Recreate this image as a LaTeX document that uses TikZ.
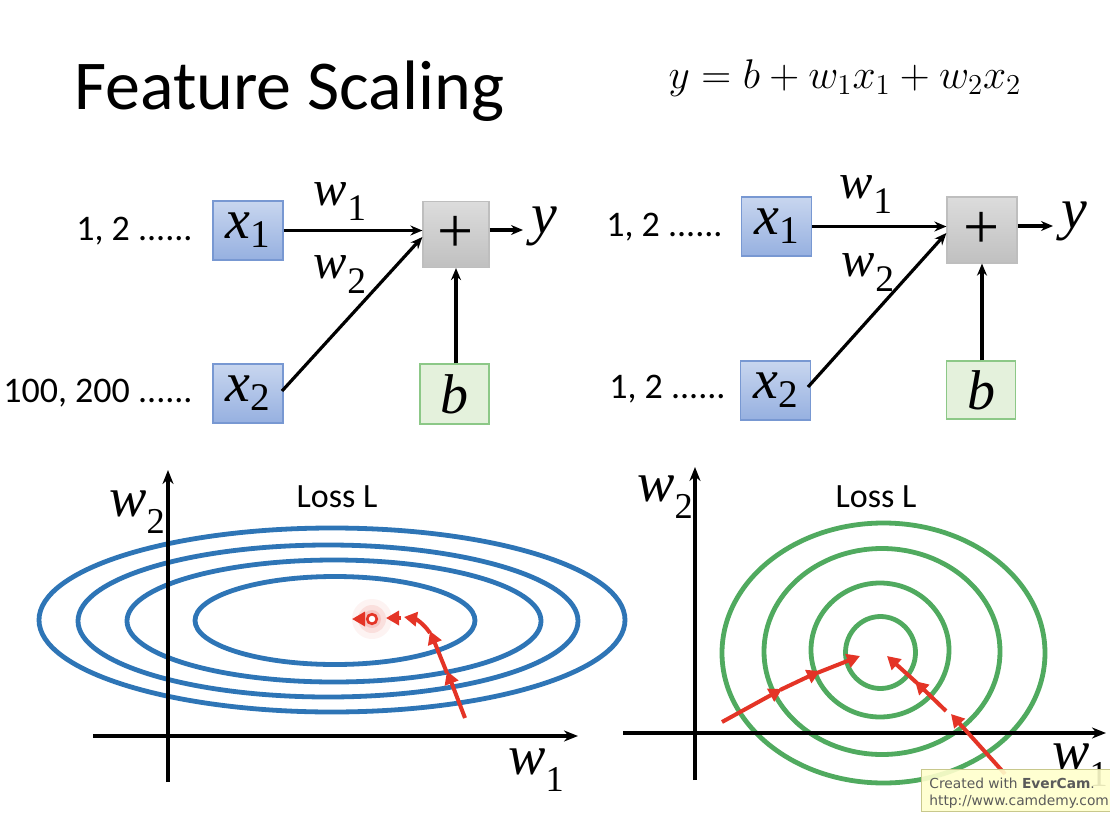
\documentclass[tikz,border=0pt]{standalone}
\usepackage{fontspec}
\setmainfont{Carlito}
\newfontfamily\tms{Liberation Serif}
\newfontfamily\dvs{DejaVu Sans}
\usetikzlibrary{arrows.meta}
\definecolor{bluetop}{RGB}{200,214,239}
\definecolor{bluebot}{RGB}{150,176,224}
\definecolor{blueedge}{RGB}{120,152,210}
\definecolor{graytop}{RGB}{220,220,220}
\definecolor{graybot}{RGB}{192,192,192}
\definecolor{grayedge}{RGB}{190,190,190}
\definecolor{greenfill}{RGB}{228,241,220}
\definecolor{greenedge}{RGB}{140,200,135}
\definecolor{ellblue}{RGB}{46,117,182}
\definecolor{ringgreen}{RGB}{80,170,95}
\definecolor{redc}{RGB}{228,52,38}
\definecolor{wmfill}{RGB}{255,255,204}
\definecolor{wmedge}{RGB}{200,200,140}
\definecolor{wmtext}{RGB}{90,90,90}
\newcommand{\tsub}[3][0.7]{{\tms\itshape #2}{\tms\raisebox{-0.16em}{\scalebox{#1}{#3}}}}
\newcommand{\wsub}[3][0.75]{{\tms\itshape #2}{\tms\raisebox{-0.3em}{\scalebox{#1}{#3}}}}
\tikzset{
  inbox/.style={draw=blueedge, line width=0.6pt, top color=bluetop, bottom color=bluebot,
    minimum width=35pt, minimum height=29.5pt, inner sep=0pt, font=\fontsize{28}{30}\selectfont},
  sumbox/.style={draw=grayedge, line width=0.6pt, top color=graytop, bottom color=graybot,
    minimum width=33pt, minimum height=33pt, inner sep=0pt, font=\fontsize{32}{34}\tms\selectfont},
  biasbox/.style={draw=greenedge, line width=0.6pt, fill=greenfill,
    minimum width=34.5pt, minimum height=30pt, inner sep=0pt, font=\fontsize{28}{30}\tms\itshape\selectfont},
  feat/.style={anchor=east, inner sep=0pt, font=\fontsize{18}{20}\selectfont},
  wlab/.style={inner sep=0pt, font=\fontsize{25}{27}\selectfont},
  outlab/.style={inner sep=0pt, font=\fontsize{29}{31}\tms\itshape\selectfont},
  conn/.style={-{Stealth[length=6pt,width=5pt]}, line width=1.6pt},
  axis/.style={-{Stealth[length=7pt,width=5.5pt]}, line width=2pt},
  ell/.style={draw=ellblue, line width=2.4pt},
  ring/.style={draw=ringgreen, line width=2.4pt},
  redarr/.style={draw=redc, line width=2pt, -{Triangle[length=6.5pt,width=7pt]}, color=redc},
  loss/.style={inner sep=0pt, font=\fontsize{17}{19}\selectfont},
  axlab/.style={inner sep=0pt, font=\fontsize{28}{30}\selectfont}
}
\begin{document}
\begin{tikzpicture}[x=0.5pt,y=-0.5pt]
\path[use as bounding box, fill=white] (0,0) rectangle (1110,814);

% title and equation
\node[anchor=base west, inner sep=0pt, font=\fontsize{35}{40}\selectfont] (title) at (74,109) {Feature Scaling};
\node[inner sep=0pt, font=\fontsize{20}{24}\selectfont] (eq) at (845,78) {$y = b + w_1x_1 + w_2x_2$};

% ---------- left network ----------
\node[inbox] (Lx1) at (248,230.5) {\tsub{x}{1}};
\node[inbox] (Lx2) at (248,393.5) {\tsub{x}{2}};
\node[sumbox] (Lp) at (456,234.5) {+};
\node[biasbox] (Lb) at (454.5,394) {b};
\node[outlab, anchor=west] (Ly) at (531,226) {y};
\node[feat] (Lf1) at (193,231) {1, 2 ......};
\node[feat] (Lf2) at (193,393) {100, 200 ......};
\node[wlab] (Lw1) at (340,202) {\wsub{w}{1}};
\node[wlab] (Lw2) at (340,275) {\wsub{w}{2}};
\coordinate (Lx2o) at (282,391);
\coordinate (Lpin) at (Lp.west |- 0,237);
\draw[conn] (Lx1.east) -- (Lx1.east -| Lp.west);
\draw[conn] (Lx2o) -- (Lpin);
\draw[conn] (Lb.north -| Lp.south) -- (Lp.south);
\draw[conn] (Lp.east |- 0,230) -- ([xshift=-4pt]Ly.west |- 0,230);

% ---------- right network ----------
\node[inbox] (Rx1) at (776.5,226.5) {\tsub{x}{1}};
\node[inbox] (Rx2) at (775.5,390.5) {\tsub{x}{2}};
\node[sumbox, minimum width=35pt] (Rp) at (982,230) {+};
\node[biasbox, minimum height=29pt] (Rb) at (981,390) {b};
\node[outlab, anchor=west] (Ry) at (1061,221) {y};
\node[feat] (Rf1) at (723,227) {1, 2 ......};
\node[feat] (Rf2) at (726,389) {1, 2 ......};
\node[wlab] (Rw1) at (866,195) {\wsub{w}{1}};
\node[wlab] (Rw2) at (868,273) {\wsub{w}{2}};
\coordinate (Rx2o) at (808,387);
\coordinate (Rpin) at (Rp.west |- 0,233);
\draw[conn] (Rx1.east) -- (Rx1.east -| Rp.west);
\draw[conn] (Rx2o) -- (Rpin);
\draw[conn] (Rb.north -| Rp.south) -- (Rp.south);
\draw[conn] (Rp.east |- 0,226) -- ([xshift=-4pt]Ry.west |- 0,226);

% ---------- left loss plot ----------
\draw[ell] (332,620) ellipse [x radius=146.5pt, y radius=46pt];
\draw[ell] (328,621) ellipse [x radius=125pt, y radius=38pt];
\draw[ell] (334,621) ellipse [x radius=103.5pt, y radius=30.5pt];
\draw[ell] (335,620.5) ellipse [x radius=70pt, y radius=22pt];
\draw[axis] (93,736) -- (578,736);
\draw[axis] (168,782) -- (168,470);
\node[axlab] (Lw2ax) at (137,512) {\wsub[0.65]{w}{2}};
\node[axlab] (Lw1ax) at (536,770) {\wsub[0.65]{w}{1}};
\node[loss] (Lloss) at (337,497) {Loss L};
% gradient path
\fill[redc, opacity=0.06] (372,619) circle (10pt);
\fill[redc, opacity=0.10] (372,619) circle (7pt);
\fill[redc, opacity=0.14] (372,619) circle (4.5pt);
\draw[redarr] (465,718) -- (447,671);
\draw[redarr] (447,673) -- (430,631);
\draw[redarr] (430,633) .. controls (424,624) and (416,619) .. (404,617);
\draw[redarr] (401,618) -- (386,618);
\draw[redc, line width=1.3pt, fill=white] (372,619) circle (2.4pt);
\draw[redarr] (364,619) -- (352,619);

% ---------- right loss plot ----------
\draw[ring] (883.5,653) ellipse [x radius=80.75pt, y radius=65pt];
\draw[ring] (882,651.5) ellipse [x radius=59pt, y radius=51.5pt];
\draw[ring] (880,650) ellipse [x radius=34.5pt, y radius=33.5pt];
\draw[ring] (880.5,652.5) ellipse [x radius=17.5pt, y radius=18pt];
\draw[axis] (623,733) -- (1106,733);
\draw[axis] (695,780) -- (695,467);
\node[axlab] (Rw2ax) at (665,497) {\wsub[0.65]{w}{2}};
\node[axlab] (Rw1ax) at (1080,765) {\wsub[0.65]{w}{1}};
\node[loss] (Rloss) at (876,497) {Loss L};
\draw[redarr] (722,722) -- (782,689);
\draw[redarr] (780,690) -- (820,671);
\draw[redarr] (817,673) -- (860,656);
\draw[redarr] (1005,774) -- (951,714);
\draw[redarr] (946,711) -- (915,681);
\draw[redarr] (917,683) -- (887,656);

% watermark
\begin{scope}
\clip (0,0) rectangle (1110,814);
\node[draw=wmedge, fill=wmfill, fill opacity=0.9, text opacity=1, line width=0.6pt,
  anchor=north west, minimum width=100pt, minimum height=21pt, inner sep=0pt] (wm) at (921,769) {};
\node[anchor=base west, inner sep=0pt, text=wmtext, font=\fontsize{6.9}{8}\dvs] (wm1) at (929,788) {Created with \textbf{EverCam}.};
\node[anchor=base west, inner sep=0pt, text=wmtext, font=\fontsize{6.9}{8}\dvs] (wm2) at (929,805) {http://www.camdemy.com};
\end{scope}
\end{tikzpicture}
\end{document}
